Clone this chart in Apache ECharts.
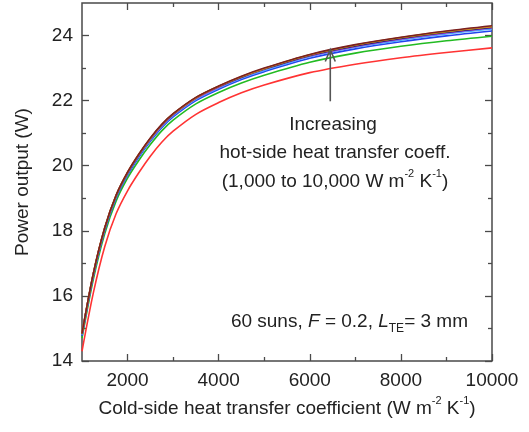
<!DOCTYPE html>
<html>
<head>
<meta charset="utf-8">
<script src="https://cdn.jsdelivr.net/npm/echarts@6/dist/echarts.min.js"></script>
<style>
  html, body { margin: 0; padding: 0; background: #fff; }
  #chart { width: 529px; height: 432px; }
</style>
</head>
<body>
<div id="chart"></div>
<script>
// Cold-side heat transfer coefficient (W m^-2 K^-1)
const hCold = [1000, 1250, 1500, 1750, 2000, 2250, 2500, 2750, 3000, 3500, 4000, 4500, 5000, 6000, 7000, 8000, 9000, 10000];

// Power output (W), one curve per hot-side heat transfer coefficient
const p1000  = [14.30, 16.10, 17.52, 18.53, 19.23, 19.79, 20.29, 20.72, 21.06, 21.58, 21.94, 22.24, 22.48, 22.86, 23.12, 23.32, 23.48, 23.62];
const p2000  = [14.70, 16.52, 17.92, 18.92, 19.62, 20.17, 20.65, 21.07, 21.40, 21.90, 22.25, 22.54, 22.78, 23.18, 23.46, 23.67, 23.84, 23.98];
const p3000  = [14.77, 16.61, 18.01, 19.01, 19.71, 20.27, 20.75, 21.17, 21.50, 22.00, 22.35, 22.65, 22.89, 23.30, 23.59, 23.81, 23.99, 24.14];
const p4000  = [14.80, 16.65, 18.05, 19.05, 19.75, 20.31, 20.79, 21.21, 21.54, 22.04, 22.39, 22.69, 22.93, 23.35, 23.64, 23.86, 24.05, 24.20];
const p5000  = [14.82, 16.67, 18.07, 19.07, 19.77, 20.33, 20.81, 21.23, 21.56, 22.06, 22.41, 22.71, 22.96, 23.37, 23.66, 23.89, 24.08, 24.23];
const p6000  = [14.83, 16.68, 18.08, 19.08, 19.78, 20.34, 20.82, 21.24, 21.57, 22.07, 22.42, 22.72, 22.97, 23.38, 23.67, 23.90, 24.09, 24.24];
const p7000  = [14.83, 16.68, 18.08, 19.08, 19.78, 20.34, 20.83, 21.25, 21.58, 22.08, 22.43, 22.72, 22.97, 23.39, 23.68, 23.91, 24.10, 24.25];
const p8000  = [14.84, 16.69, 18.09, 19.09, 19.79, 20.35, 20.84, 21.26, 21.59, 22.09, 22.44, 22.73, 22.98, 23.40, 23.70, 23.93, 24.12, 24.27];
const p9000  = [14.85, 16.70, 18.10, 19.10, 19.80, 20.36, 20.84, 21.26, 21.59, 22.09, 22.44, 22.74, 22.99, 23.41, 23.71, 23.94, 24.13, 24.28];
const p10000 = [14.85, 16.70, 18.10, 19.10, 19.80, 20.36, 20.85, 21.27, 21.60, 22.10, 22.45, 22.75, 23.00, 23.42, 23.72, 23.95, 24.14, 24.30];

const curves = [p1000, p2000, p3000, p4000, p5000, p6000, p7000, p8000, p9000, p10000];
const curveColors = ['#ff3333', '#22bb22', '#2244ee', '#44aaff', '#8866dd', '#cc33cc', '#1a1a80', '#999900', '#e08a30', '#7a2020'];

// Axis ticks and labels
const xMajor = [2000, 4000, 6000, 8000, 10000];
const xMinor = [3000, 5000, 7000, 9000];
const yMajor = [14, 16, 18, 20, 22, 24];
const yMinor = [15, 17, 19, 21, 23];

// Arrow pointing across the curves: x, from, to
const arrowX = 6450;
const arrowFrom = 21.98;
const arrowTo = 23.57;

const FONT = 'Liberation Sans, Arial, Helvetica, sans-serif';
const AX = '#4a4a4a';

const chart = echarts.init(document.getElementById('chart'), null, { renderer: 'canvas' });

function xAx(pos, ticks, len, labels, extra) {
  return Object.assign({
    type: 'value', min: 1000, max: 10000, position: pos,
    axisLine: { show: false },
    splitLine: { show: false },
    axisTick: { show: true, inside: true, length: len, customValues: ticks, lineStyle: { color: AX, width: 1.3 } },
    axisLabel: labels
      ? { show: true, customValues: ticks, formatter: v => String(v), fontFamily: FONT, fontSize: 19, color: '#222', margin: 10 }
      : { show: false }
  }, extra || {});
}
function yAx(pos, ticks, len, labels, extra) {
  return Object.assign({
    type: 'value', min: 14, max: 25, position: pos,
    axisLine: { show: false },
    splitLine: { show: false },
    axisTick: { show: true, inside: true, length: len, customValues: ticks, lineStyle: { color: AX, width: 1.3 } },
    axisLabel: labels
      ? { show: true, customValues: ticks, formatter: v => String(v), fontFamily: FONT, fontSize: 19, color: '#222', margin: 9 }
      : { show: false }
  }, extra || {});
}

// superscript: short box pinned to the top of a tall line
const supRich = {
  sup: { fontSize: 11, fontFamily: FONT, color: '#222', verticalAlign: 'top', lineHeight: 8 }
};

const series = curves.map((vals, i) => ({
  type: 'line',
  xAxisIndex: 0, yAxisIndex: 0,
  data: hCold.map((h, k) => [h, vals[k]]),
  showSymbol: false,
  smooth: 0.3,
  lineStyle: { color: curveColors[i], width: 1.6 },
  z: 2 + i,
  silent: true
}));

series.push({
  type: 'custom',
  xAxisIndex: 0, yAxisIndex: 0,
  data: [[arrowX, arrowFrom, arrowTo]],
  z: 20,
  renderItem: function (params, api) {
    const a = api.coord([api.value(0), api.value(1)]);
    const b = api.coord([api.value(0), api.value(2)]);
    return {
      type: 'group',
      children: [
        { type: 'line', shape: { x1: a[0], y1: a[1], x2: b[0], y2: b[1] }, style: { stroke: '#555', lineWidth: 1.6 } },
        { type: 'polyline', shape: { points: [[b[0] - 5, b[1] + 12], [b[0], b[1]], [b[0] + 5, b[1] + 12]] }, style: { stroke: '#555', lineWidth: 1.6, fill: null } }
      ]
    };
  }
});

chart.setOption({
  animation: false,
  backgroundColor: '#fff',
  grid: {
    left: 82, top: 3, right: 37, bottom: 71,
    show: true, borderColor: AX, borderWidth: 1.5, backgroundColor: 'transparent'
  },
  xAxis: [
    xAx('bottom', xMajor, 7, true, {
      name: 'Cold-side heat transfer coefficient (W m{sup|-2} K{sup|-1})',
      nameLocation: 'middle', nameGap: 34,
      nameTextStyle: { fontFamily: FONT, fontSize: 19, color: '#222', lineHeight: 27, rich: supRich }
    }),
    xAx('bottom', xMinor, 4, false),
    xAx('top', xMajor, 7, false),
    xAx('top', xMinor, 4, false)
  ],
  yAxis: [
    yAx('left', yMajor, 7, true, {
      name: 'Power output (W)',
      nameLocation: 'middle', nameGap: 50,
      nameTextStyle: { fontFamily: FONT, fontSize: 19, color: '#222' }
    }),
    yAx('left', yMinor, 4, false),
    yAx('right', yMajor, 7, false),
    yAx('right', yMinor, 4, false)
  ],
  series: series,
  graphic: [
    { type: 'text', x: 333, y: 125, z: 30,
      style: { text: 'Increasing', fontFamily: FONT, fontSize: 19, fill: '#222', align: 'center', verticalAlign: 'middle' } },
    { type: 'text', x: 335, y: 153, z: 30,
      style: { text: 'hot-side heat transfer coeff.', fontFamily: FONT, fontSize: 19, fill: '#222', align: 'center', verticalAlign: 'middle' } },
    { type: 'text', x: 335, y: 182, z: 30,
      style: { text: '(1,000 to 10,000 W m{sup|-2} K{sup|-1})', fontFamily: FONT, fontSize: 19, fill: '#222', align: 'center', verticalAlign: 'middle',
        lineHeight: 27, rich: supRich } },
    { type: 'text', x: 468, y: 322, z: 30,
      style: { text: '60 suns, {it|F} = 0.2, {it|L}{sub|TE}= 3 mm', fontFamily: FONT, fontSize: 19, fill: '#222', align: 'right', verticalAlign: 'middle',
        lineHeight: 26,
        rich: {
          it: { fontStyle: 'italic', fontFamily: FONT, fontSize: 19, color: '#222' },
          sub: { fontFamily: FONT, fontSize: 12, color: '#222', verticalAlign: 'bottom', lineHeight: 10 }
        } } }
  ]
});
</script>
</body>
</html>
